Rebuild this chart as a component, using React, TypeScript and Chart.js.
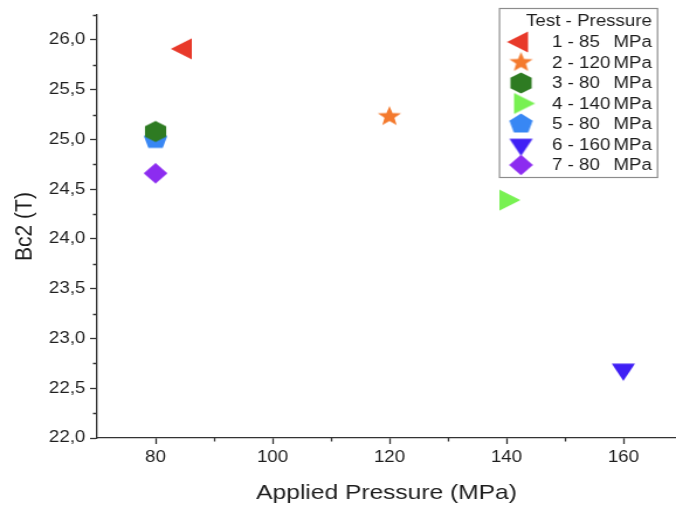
import React, { useEffect, useRef } from 'react';
import { Chart, registerables } from 'chart.js';

Chart.register(...registerables);

// ---- data ----
const testIds = ['1', '2', '3', '4', '5', '6', '7'];
const pressures = [85, 120, 80, 140, 80, 160, 80];
const bc2Values = [25.91, 25.23, 25.08, 24.39, 25.0, 22.69, 24.66];
const markerShapes = ['triangleLeft', 'star', 'hexagon', 'triangleRight', 'pentagon', 'triangleDown', 'diamond'];
const markerColors = ['#E8392A', '#F47A2E', '#2E7B22', '#78F152', '#3887F4', '#3F1FF5', '#8C2CF0'];

const xTickValues = [80, 100, 120, 140, 160];
const xMinorTickValues = [90, 110, 130, 150];
const yTickValues = [22, 22.5, 23, 23.5, 24, 24.5, 25, 25.5, 26];
const yMinorTickValues = [22.25, 22.75, 23.25, 23.75, 24.25, 24.75, 25.25, 25.75, 26.25];
const xRange = [70, 169];
const yRange = [22, 26.25];

const xAxisTitle = 'Applied Pressure (MPa)';
const yAxisTitle = 'Bc2 (T)';
const legendTitle = 'Test - Pressure';
const pressureUnit = 'MPa';

// ---- styling ----
const FONT = "'Liberation Sans', Arial, Helvetica, sans-serif";
const AXIS_COLOR = '#333333';
const TEXT_COLOR = '#1e1e1e';
const OUT_W = 676;
const OUT_H = 507;
const STRETCH = 1.17;
const CANVAS_W = Math.round(OUT_W / STRETCH);

function makeMarker(shape: string, color: string): HTMLCanvasElement {
  const size = 30;
  const c = document.createElement('canvas');
  c.width = size;
  c.height = size;
  const g = c.getContext('2d')!;
  g.translate(size / 2, size / 2);
  g.fillStyle = color;
  g.beginPath();
  const poly = (n: number, r: number, start: number) => {
    for (let i = 0; i < n; i++) {
      const a = start + (i * 2 * Math.PI) / n;
      const px = r * Math.cos(a);
      const py = r * Math.sin(a);
      if (i === 0) g.moveTo(px, py);
      else g.lineTo(px, py);
    }
    g.closePath();
  };
  switch (shape) {
    case 'triangleLeft':
      poly(3, 12, Math.PI);
      break;
    case 'triangleRight':
      poly(3, 12, 0);
      break;
    case 'triangleDown':
      poly(3, 11.5, Math.PI / 2);
      break;
    case 'hexagon':
      poly(6, 10.5, -Math.PI / 2);
      break;
    case 'pentagon':
      poly(5, 10.5, -Math.PI / 2);
      break;
    case 'diamond':
      poly(4, 10.2, -Math.PI / 2);
      break;
    case 'star': {
      const R = 10.5;
      const r = R * 0.42;
      for (let i = 0; i < 10; i++) {
        const a = -Math.PI / 2 + (i * Math.PI) / 5;
        const rr = i % 2 === 0 ? R : r;
        const px = rr * Math.cos(a);
        const py = rr * Math.sin(a);
        if (i === 0) g.moveTo(px, py);
        else g.lineTo(px, py);
      }
      g.closePath();
      break;
    }
  }
  g.fill();
  return c;
}

const minorTicksPlugin = {
  id: 'minorTicks',
  afterDraw(chart: any) {
    const { ctx } = chart;
    const xs = chart.scales.x;
    const ys = chart.scales.y;
    ctx.save();
    ctx.strokeStyle = AXIS_COLOR;
    ctx.lineWidth = 1.3;
    ctx.beginPath();
    xMinorTickValues.forEach((v) => {
      const px = Math.round(xs.getPixelForValue(v)) + 0.5;
      ctx.moveTo(px, xs.top);
      ctx.lineTo(px, xs.top + 3.5);
    });
    yMinorTickValues.forEach((v) => {
      const py = Math.round(ys.getPixelForValue(v)) + 0.5;
      ctx.moveTo(ys.right, py);
      ctx.lineTo(ys.right - 3.5, py);
    });
    ctx.stroke();
    ctx.restore();
  },
};

const boxLegendPlugin = {
  id: 'boxLegend',
  afterDraw(chart: any) {
    const { ctx } = chart;
    const right = chart.width;
    const boxLeft = right - 151.4;
    const boxTop = 8;
    const boxW = 135.1;
    const boxH = 169;
    const textRight = boxLeft + boxW - 4.3;
    const markerX = boxLeft + 18.9;
    const textLeft = boxLeft + 45.4;
    ctx.save();
    ctx.strokeStyle = '#8c8c8c';
    ctx.lineWidth = 1.2;
    ctx.strokeRect(boxLeft + 0.5, boxTop + 0.5, boxW, boxH);
    ctx.fillStyle = TEXT_COLOR;
    ctx.font = `16px ${FONT}`;
    ctx.textBaseline = 'middle';
    ctx.textAlign = 'right';
    ctx.fillText(legendTitle, textRight, boxTop + 13.5);
    chart.data.datasets.forEach((ds: any, i: number) => {
      const cy = boxTop + 34 + i * 20.5;
      const img = ds.pointStyle as HTMLCanvasElement;
      ctx.drawImage(img, markerX - img.width / 2, cy - img.height / 2);
      ctx.fillStyle = TEXT_COLOR;
      ctx.textAlign = 'left';
      ctx.fillText(`${testIds[i]} - ${pressures[i]}`, textLeft, cy + 1);
      ctx.textAlign = 'right';
      ctx.fillText(pressureUnit, textRight, cy + 1);
    });
    ctx.restore();
  },
};

export default function App() {
  const canvasRef = useRef<HTMLCanvasElement | null>(null);

  useEffect(() => {
    const canvas = canvasRef.current;
    if (!canvas) return;
    const datasets = testIds.map((id, i) => ({
      label: `${id} - ${pressures[i]} ${pressureUnit}`,
      data: [{ x: pressures[i], y: bc2Values[i] }],
      pointStyle: makeMarker(markerShapes[i], markerColors[i]),
      pointRadius: 10,
      pointHoverRadius: 10,
      backgroundColor: markerColors[i],
      borderColor: markerColors[i],
    }));

    const chart = new Chart(canvas, {
      type: 'scatter',
      data: { datasets },
      plugins: [minorTicksPlugin, boxLegendPlugin],
      options: {
        responsive: false,
        maintainAspectRatio: false,
        devicePixelRatio: 1,
        animation: false,
        events: [],
        layout: { autoPadding: false, padding: { top: 15, left: 0, right: 0, bottom: 0 } },
        plugins: {
          legend: { display: false },
          tooltip: { enabled: false },
        },
        scales: {
          x: {
            type: 'linear',
            position: 'bottom',
            min: xRange[0],
            max: xRange[1],
            afterBuildTicks: (s: any) => {
              s.ticks = xTickValues.map((v) => ({ value: v }));
            },
            afterFit: (s: any) => {
              s.height = 69;
              s.paddingLeft = 0;
              s.paddingRight = 0;
            },
            grid: {
              display: true,
              drawOnChartArea: false,
              drawTicks: true,
              tickLength: 6,
              tickColor: AXIS_COLOR,
              tickWidth: 1.3,
            },
            border: { display: true, color: AXIS_COLOR, width: 1.3 },
            ticks: {
              autoSkip: false,
              maxRotation: 0,
              padding: 4,
              color: TEXT_COLOR,
              font: { family: FONT, size: 16 },
              callback: (v: any) => String(v),
            },
            title: {
              display: true,
              text: xAxisTitle,
              color: TEXT_COLOR,
              font: { family: FONT, size: 21 },
              padding: { top: 0, bottom: 1.5 },
            },
          },
          y: {
            type: 'linear',
            position: 'left',
            min: yRange[0],
            max: yRange[1],
            afterBuildTicks: (s: any) => {
              s.ticks = yTickValues.map((v) => ({ value: v }));
            },
            afterFit: (s: any) => {
              s.width = 83;
              s.paddingTop = 0;
              s.paddingBottom = 0;
            },
            grid: {
              display: true,
              drawOnChartArea: false,
              drawTicks: true,
              tickLength: 6,
              tickColor: AXIS_COLOR,
              tickWidth: 1.3,
            },
            border: { display: true, color: AXIS_COLOR, width: 1.3 },
            ticks: {
              autoSkip: false,
              padding: 4,
              color: TEXT_COLOR,
              font: { family: FONT, size: 16 },
              callback: (v: any) => Number(v).toFixed(1).replace('.', ','),
            },
            title: {
              display: true,
              text: yAxisTitle,
              color: TEXT_COLOR,
              font: { family: FONT, size: 21 },
              padding: { top: 9, bottom: 0 },
            },
          },
        },
      } as any,
    });
    return () => chart.destroy();
  }, []);

  return (
    <div style={{ position: 'fixed', left: 0, top: 0, width: OUT_W, height: OUT_H, background: '#fff' }}>
      <canvas
        ref={canvasRef}
        width={CANVAS_W}
        height={OUT_H}
        style={{ width: `${OUT_W}px`, height: `${OUT_H}px`, display: 'block' }}
      />
    </div>
  );
}
